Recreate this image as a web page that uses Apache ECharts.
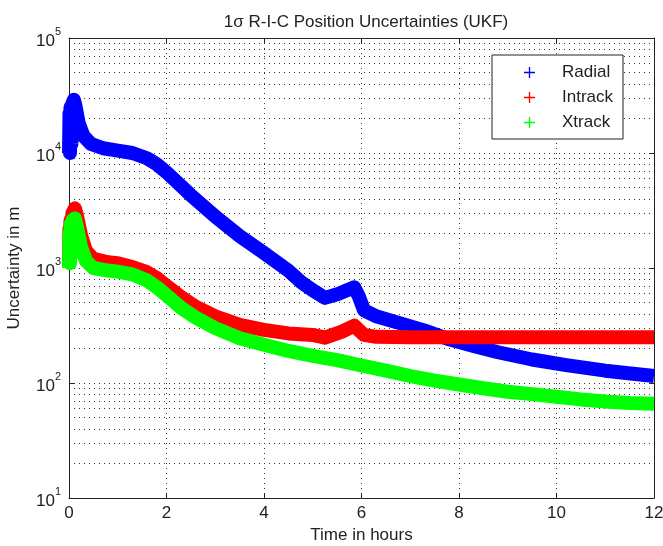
<!DOCTYPE html>
<html>
<head>
<meta charset="utf-8">
<script src="https://cdn.jsdelivr.net/npm/echarts@6/dist/echarts.min.js"></script>
<style>html,body{margin:0;padding:0;background:#fff;}#c{width:663px;height:546px;}</style>
</head>
<body>
<div id="c"></div>
<script>
// ---- data (time in hours, uncertainty in m) ----
var radialT = [0,0.01,0.02,0.03,0.05,0.07,0.1,0.13,0.2,0.3,0.45,0.7,1.0,1.3,1.6,1.8,2.0,2.5,3.0,3.5,4.0,4.5,4.75,5.0,5.25,5.5,5.85,5.95,6.05,6.3,6.8,7.3,7.8,8.3,8.8,9.5,10.2,11,12];
var radialV = [10000,22000,10000,25000,12000,27000,29000,26000,18000,14000,12000,11000,10500,10000,9000,8000,6800,4300,2800,1900,1350,950,760,640,550,590,680,560,430,380,330,285,240,210,185,160,143,128,115];

var intrackT = [0,0.01,0.02,0.03,0.05,0.07,0.12,0.16,0.25,0.35,0.5,0.8,1.0,1.3,1.6,1.8,2.0,2.3,2.6,3.0,3.5,4.0,4.5,5.0,5.25,5.6,5.85,6.05,6.3,7,8,9,10,11,12];
var intrackV = [1000,2200,1200,2600,1500,3000,3300,2900,1900,1400,1200,1120,1100,1020,920,820,700,560,460,380,320,290,270,262,248,280,315,262,252,250,250,250,250,250,250];

var xtrackT = [0,0.01,0.02,0.03,0.05,0.07,0.12,0.16,0.25,0.35,0.5,0.8,1.0,1.3,1.6,1.8,2.0,2.3,2.6,3.0,3.5,4.0,4.5,5.0,5.5,6.0,6.5,7.0,7.5,8.0,8.5,9.0,9.5,10,10.5,11,11.5,12];
var xtrackV = [1000,2000,1100,2400,1300,2600,2700,2300,1500,1150,1000,950,930,880,780,680,580,450,370,300,245,215,190,172,158,142,128,115,105,97,90,84,80,76,72,69,67,66];

var seriesNames = ['Radial','Intrack','Xtrack'];
var seriesColors = ['#0000ff','#ff0000','#00ff00'];
var xTicks = [0,2,4,6,8,10,12];
var yDecades = [10,100,1000,10000,100000];
var titleText = '1\u03c3 R-I-C Position Uncertainties (UKF)';
var xName = 'Time in hours';
var yName = 'Uncertainty in m';

function pairs(t, v){ return t.map(function(x,i){ return [x, v[i]]; }); }
var minorVals = [];
for (var k = 0; k < yDecades.length - 1; k++) {
  for (var d = 2; d <= 9; d++) minorVals.push(d * yDecades[k]);
}

var FONT = '"Liberation Sans", Arial, sans-serif';
var plusIcon = 'path://M4.4,0 H5.6 V4.4 H10 V5.6 H5.6 V10 H4.4 V5.6 H0 V4.4 H4.4 Z';
var dotted = {color:'#333', width:1, type:[1,4]};

var chart = echarts.init(document.getElementById('c'), null, {renderer:'canvas'});
var datas = [pairs(radialT, radialV), pairs(intrackT, intrackV), pairs(xtrackT, xtrackV)];

var series = datas.map(function(d, i){
  return {
    name: seriesNames[i], type:'line', data:d, showSymbol:false, symbol:'none',
    lineStyle:{color:seriesColors[i], width:14, join:'round'},
    itemStyle:{color:seriesColors[i]}, z: 3 + i, animation:false, clip:true
  };
});
series.push({
  type:'line', data:[], silent:true, animation:false,
  markLine:{ silent:true, symbol:['none','none'], z:1, animation:false,
    label:{show:false}, lineStyle:dotted,
    data: minorVals.map(function(v){ return {yAxis:v}; }) }
});

chart.setOption({
  animation:false,
  backgroundColor:'#fff',
  textStyle:{fontFamily:FONT},
  title:{ text:titleText, left:361, textAlign:'center', top:9,
    textStyle:{fontFamily:FONT, fontSize:17, fontWeight:'normal', color:'#222'} },
  grid:{ left:69, right:9, top:38, bottom:48, containLabel:false, outerBoundsMode:'none' },
  legend:{
    orient:'vertical', left:492, top:55,
    padding:[9,10,8,32], itemGap:8, itemWidth:11, itemHeight:11,
    backgroundColor:'#fff', borderColor:'#222', borderWidth:1,
    icon: plusIcon,
    data: seriesNames,
    textStyle:{fontFamily:FONT, fontSize:17, color:'#222', lineHeight:17, padding:[0,0,0,22]}
  },
  xAxis:[{
    type:'value', min:0, max:12, interval:2,
    name:xName, nameLocation:'middle', nameGap:26,
    nameTextStyle:{fontFamily:FONT, fontSize:17, color:'#222'},
    axisLine:{show:true, onZero:false, lineStyle:{color:'#222', width:1}},
    axisTick:{show:true, inside:true, length:5, lineStyle:{color:'#222'}},
    axisLabel:{margin:7, fontFamily:FONT, fontSize:17, color:'#222',
      formatter:function(v){ return xTicks.indexOf(v) >= 0 ? String(v) : ''; }},
    splitLine:{show:true, lineStyle:dotted}
  },{
    type:'value', min:0, max:12, interval:2, position:'top',
    axisLine:{show:true, onZero:false, lineStyle:{color:'#222', width:1}},
    axisTick:{show:true, inside:true, length:5, lineStyle:{color:'#222'}},
    axisLabel:{show:false}, splitLine:{show:false}
  }],
  yAxis:[{
    type:'log', logBase:10, min:10, max:100000, interval:1,
    name:yName, nameLocation:'middle', nameGap:46,
    nameTextStyle:{fontFamily:FONT, fontSize:17, color:'#222'},
    axisLine:{show:true, onZero:false, lineStyle:{color:'#222', width:1}},
    axisTick:{show:true, inside:true, length:5, lineStyle:{color:'#222'}},
    axisLabel:{margin:8, color:'#222',
      formatter:function(v){ var e = Math.round(Math.log(v)/Math.LN10); return '{b|10}{e|' + e + '}'; },
      rich:{ b:{fontFamily:FONT, fontSize:17, color:'#222', padding:[7,0,0,0]},
             e:{fontFamily:FONT, fontSize:11, color:'#222', padding:[0,0,12,0]} }},
    splitLine:{show:true, lineStyle:dotted}
  },{
    type:'log', logBase:10, min:10, max:100000, interval:1, position:'right',
    axisLine:{show:true, onZero:false, lineStyle:{color:'#222', width:1}},
    axisTick:{show:true, inside:true, length:5, lineStyle:{color:'#222'}},
    axisLabel:{show:false}, splitLine:{show:false}
  }],
  series: series
});
</script>
</body>
</html>
